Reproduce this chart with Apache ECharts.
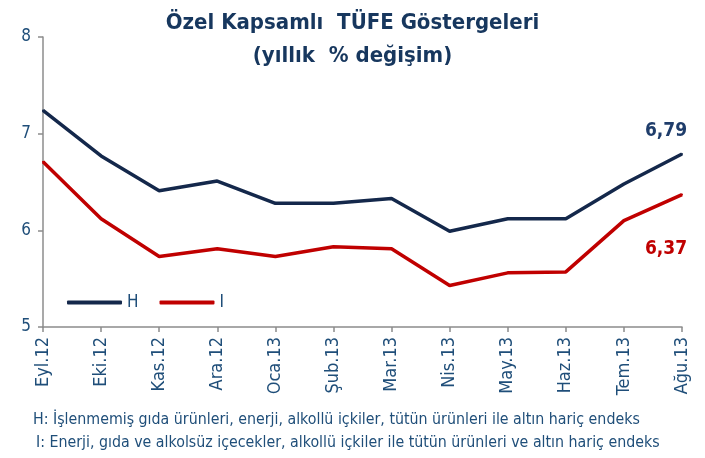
<!DOCTYPE html>
<html>
<head>
<meta charset="utf-8">
<script src="https://cdn.jsdelivr.net/npm/echarts@6/dist/echarts.min.js"></script>
<style>
  html, body { margin: 0; padding: 0; background: #fff; }
  #chart { width: 705px; height: 458px; }
</style>
</head>
<body>
<div id="chart"></div>
<script>
// months (Sep 2012 - Aug 2013)
const months = ["Eyl.12", "Eki.12", "Kas.12", "Ara.12", "Oca.13", "Şub.13", "Mar.13", "Nis.13", "May.13", "Haz.13", "Tem.13", "Ağu.13"];
const seriesH = [7.24, 6.77, 6.41, 6.51, 6.28, 6.28, 6.33, 5.99, 6.12, 6.12, 6.48, 6.79];
const seriesI = [6.71, 6.12, 5.73, 5.81, 5.73, 5.83, 5.81, 5.43, 5.56, 5.57, 6.10, 6.37];
const yTicks = [5, 6, 7, 8];
const footnotes = [
  "H: İşlenmemiş gıda ürünleri, enerji, alkollü içkiler, tütün ürünleri ile altın hariç endeks",
  "I: Enerji, gıda ve alkolsüz içecekler, alkollü içkiler ile tütün ürünleri ve altın hariç endeks"
];

const NAVY = "#14284b";
const RED = "#c00000";
const TEXT = "#1f4e79";
const FONT = "'Liberation Sans Narrow', 'DejaVu Sans Condensed', sans-serif";

const chart = echarts.init(document.getElementById("chart"));

// put a label only on the last point
function withLastLabel(values, color, position, offset) {
  return values.map((v, i) => {
    if (i !== values.length - 1) return v;
    return {
      value: v,
      label: {
        show: true,
        position: position,
        offset: offset,
        formatter: (p) => p.value.toFixed(2).replace(".", ","),
        color: color,
        fontFamily: FONT,
        fontWeight: "bold",
        fontSize: 19
      }
    };
  });
}

chart.setOption({
  animation: false,
  title: {
    text: "Özel Kapsamlı  TÜFE Göstergeleri\n(yıllık  % değişim)",
    left: "center",
    top: 2,
    textStyle: {
      color: "#17375e",
      fontFamily: FONT,
      fontWeight: "bold",
      fontSize: 22,
      lineHeight: 33
    }
  },
  legend: {
    left: 62,
    top: 289,
    itemWidth: 55,
    itemHeight: 4,
    itemGap: 21,
    icon: "roundRect",
    textStyle: { color: TEXT, fontFamily: FONT, fontSize: 17, padding: [0, 0, 0, 0] },
    data: ["H", "I"]
  },
  grid: { left: 43, right: 23, top: 37, bottom: 131 },
  xAxis: {
    type: "category",
    data: months,
    boundaryGap: false,
    axisLine: { lineStyle: { color: "#8c8c8c", width: 1.5 } },
    axisTick: { show: true, length: 5, lineStyle: { color: "#8c8c8c", width: 1.5 } },
    axisLabel: {
      rotate: 90,
      interval: 0,
      margin: 10,
      color: TEXT,
      fontFamily: FONT,
      fontSize: 18
    },
    splitLine: { show: false }
  },
  yAxis: {
    type: "value",
    min: yTicks[0],
    max: yTicks[yTicks.length - 1],
    interval: 1,
    axisLine: { show: true, lineStyle: { color: "#8c8c8c", width: 1.5 } },
    axisTick: { show: true, length: 5, lineStyle: { color: "#8c8c8c", width: 1.5 } },
    axisLabel: { color: TEXT, fontFamily: FONT, fontSize: 17, margin: 12 },
    splitLine: { show: false }
  },
  graphic: footnotes.map((t, i) => ({
    type: "text",
    left: i === 0 ? 33 : 36,
    top: 412 + i * 23,
    style: { text: t, fill: TEXT, font: "15.8px " + FONT }
  })),
  series: [
    {
      name: "H",
      type: "line",
      data: withLastLabel(seriesH, "#1f3d6b", "top", [-16, -7]),
      symbol: "circle",
      symbolSize: 2,
      showSymbol: true,
      lineStyle: { color: NAVY, width: 3.5 },
      itemStyle: { color: NAVY }
    },
    {
      name: "I",
      type: "line",
      data: withLastLabel(seriesI, RED, "bottom", [-16, 39]),
      symbol: "circle",
      symbolSize: 2,
      showSymbol: true,
      lineStyle: { color: RED, width: 3.5 },
      itemStyle: { color: RED }
    }
  ]
});
</script>
</body>
</html>
